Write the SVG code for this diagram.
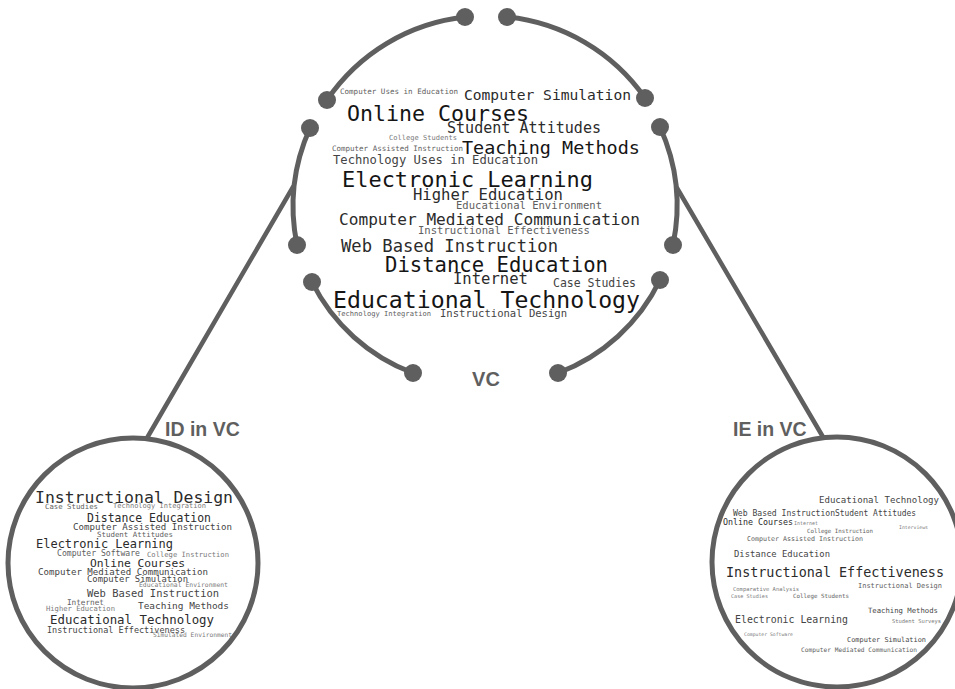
<svg xmlns="http://www.w3.org/2000/svg" width="955" height="689" viewBox="0 0 955 689">
<style>
.w{font-family:"DejaVu Sans Mono","Liberation Mono",monospace;}
.c1{fill:#151515}.c2{fill:#2b2b2b}.c3{fill:#444}.c4{fill:#5e5e5e}.c5{fill:#7a7a7a}
.arc{fill:none;stroke:#5f5f5f;stroke-width:5;stroke-linecap:round}
.ring{fill:#fff;stroke:#5f5f5f;stroke-width:5}
.con{stroke:#5f5f5f;stroke-width:4.5;stroke-linecap:round}
.dot{fill:#5f5f5f}
.lbl{font-family:"Liberation Sans",Arial,sans-serif;font-weight:bold;fill:#5f5f5f}
</style>
<rect width="955" height="689" fill="#fff"/>
<g id="connectors">
<line class="con" x1="293" y1="187" x2="147" y2="438"/>
<line class="con" x1="677" y1="188" x2="823" y2="437"/>
</g>
<g id="vc">
<path class="arc" d="M327,100 A192,192 0 0 1 465,17"/>
<path class="arc" d="M507,17 A192,192 0 0 1 645,98"/>
<path class="arc" d="M310,128 A192,192 0 0 0 297,245"/>
<path class="arc" d="M660,127 A192,192 0 0 1 673,245"/>
<path class="arc" d="M312,282 A186,186 0 0 0 413,373"/>
<path class="arc" d="M558,373 A186,186 0 0 0 660,280"/>
<circle class="dot" cx="465" cy="17" r="9"/>
<circle class="dot" cx="507" cy="17" r="9"/>
<circle class="dot" cx="327" cy="100" r="9"/>
<circle class="dot" cx="645" cy="98" r="9"/>
<circle class="dot" cx="310" cy="128" r="9"/>
<circle class="dot" cx="660" cy="127" r="9"/>
<circle class="dot" cx="297" cy="245" r="9"/>
<circle class="dot" cx="673" cy="245" r="9"/>
<circle class="dot" cx="312" cy="282" r="9"/>
<circle class="dot" cx="660" cy="280" r="9"/>
<circle class="dot" cx="413" cy="373" r="9"/>
<circle class="dot" cx="558" cy="373" r="9"/>
<g class="w" lengthAdjust="spacingAndGlyphs">
<text class="c4" x="340" y="94" font-size="7.5" textLength="118" lengthAdjust="spacingAndGlyphs">Computer Uses in Education</text>
<text class="c2" x="464" y="100" font-size="14.5" textLength="167" lengthAdjust="spacingAndGlyphs">Computer Simulation</text>
<text class="c1" x="347" y="121" font-size="21" textLength="182" lengthAdjust="spacingAndGlyphs">Online Courses</text>
<text class="c2" x="447" y="133" font-size="15" textLength="154" lengthAdjust="spacingAndGlyphs">Student Attitudes</text>
<text class="c5" x="389" y="140" font-size="7" textLength="68" lengthAdjust="spacingAndGlyphs">College Students</text>
<text class="c4" x="332" y="151" font-size="7.5" textLength="131" lengthAdjust="spacingAndGlyphs">Computer Assisted Instruction</text>
<text class="c1" x="462" y="154" font-size="18.5" textLength="178" lengthAdjust="spacingAndGlyphs">Teaching Methods</text>
<text class="c3" x="333" y="164" font-size="12" textLength="205" lengthAdjust="spacingAndGlyphs">Technology Uses in Education</text>
<text class="c1" x="342" y="187" font-size="22" textLength="251" lengthAdjust="spacingAndGlyphs">Electronic Learning</text>
<text class="c2" x="413" y="200" font-size="15" textLength="150" lengthAdjust="spacingAndGlyphs">Higher Education</text>
<text class="c4" x="456" y="209" font-size="10" textLength="146" lengthAdjust="spacingAndGlyphs">Educational Environment</text>
<text class="c2" x="339" y="225" font-size="16" textLength="301" lengthAdjust="spacingAndGlyphs">Computer Mediated Communication</text>
<text class="c4" x="418" y="234" font-size="10.5" textLength="172" lengthAdjust="spacingAndGlyphs">Instructional Effectiveness</text>
<text class="c2" x="341" y="252" font-size="17" textLength="217" lengthAdjust="spacingAndGlyphs">Web Based Instruction</text>
<text class="c1" x="385" y="272" font-size="20.5" textLength="223" lengthAdjust="spacingAndGlyphs">Distance Education</text>
<text class="c2" x="453" y="284" font-size="15.5" textLength="75" lengthAdjust="spacingAndGlyphs">Internet</text>
<text class="c3" x="553" y="287" font-size="11.5" textLength="83" lengthAdjust="spacingAndGlyphs">Case Studies</text>
<text class="c1" x="333" y="308" font-size="23" textLength="307" lengthAdjust="spacingAndGlyphs">Educational Technology</text>
<text class="c4" x="337" y="316" font-size="7" textLength="94" lengthAdjust="spacingAndGlyphs">Technology Integration</text>
<text class="c3" x="440" y="316.5" font-size="10.5" textLength="127" lengthAdjust="spacingAndGlyphs">Instructional Design</text>
</g>
<text class="lbl" x="486" y="386" font-size="20" text-anchor="middle">VC</text>
</g>
<g id="id-in-vc">
<circle class="ring" cx="133" cy="563" r="125"/>
<text class="lbl" x="165" y="436" font-size="19.5">ID in VC</text>
<g class="w">
<text class="c2" x="35" y="503" font-size="16" textLength="198" lengthAdjust="spacingAndGlyphs">Instructional Design</text>
<text class="c4" x="45" y="509" font-size="7.2" textLength="53" lengthAdjust="spacingAndGlyphs">Case Studies</text>
<text class="c5" x="113" y="508" font-size="7" textLength="93" lengthAdjust="spacingAndGlyphs">Technology Integration</text>
<text class="c2" x="87" y="522" font-size="11.4" textLength="124" lengthAdjust="spacingAndGlyphs">Distance Education</text>
<text class="c3" x="73" y="530" font-size="9" textLength="159" lengthAdjust="spacingAndGlyphs">Computer Assisted Instruction</text>
<text class="c4" x="97" y="537" font-size="7.3" textLength="76" lengthAdjust="spacingAndGlyphs">Student Attitudes</text>
<text class="c2" x="36" y="548" font-size="12" textLength="137" lengthAdjust="spacingAndGlyphs">Electronic Learning</text>
<text class="c4" x="57" y="556" font-size="8" textLength="83" lengthAdjust="spacingAndGlyphs">Computer Software</text>
<text class="c5" x="147" y="557" font-size="7.2" textLength="82" lengthAdjust="spacingAndGlyphs">College Instruction</text>
<text class="c2" x="90" y="567" font-size="11.3" textLength="95" lengthAdjust="spacingAndGlyphs">Online Courses</text>
<text class="c3" x="38" y="575" font-size="9" textLength="170" lengthAdjust="spacingAndGlyphs">Computer Mediated Communication</text>
<text class="c3" x="87" y="582" font-size="8.8" textLength="101" lengthAdjust="spacingAndGlyphs">Computer Simulation</text>
<text class="c5" x="139" y="587" font-size="6.4" textLength="89" lengthAdjust="spacingAndGlyphs">Educational Environment</text>
<text class="c3" x="87" y="597" font-size="10.5" textLength="132" lengthAdjust="spacingAndGlyphs">Web Based Instruction</text>
<text class="c4" x="67" y="605" font-size="7.8" textLength="37" lengthAdjust="spacingAndGlyphs">Internet</text>
<text class="c5" x="46" y="611" font-size="7.2" textLength="69" lengthAdjust="spacingAndGlyphs">Higher Education</text>
<text class="c3" x="138" y="609" font-size="9.5" textLength="91" lengthAdjust="spacingAndGlyphs">Teaching Methods</text>
<text class="c2" x="50" y="624" font-size="12.4" textLength="164" lengthAdjust="spacingAndGlyphs">Educational Technology</text>
<text class="c3" x="47" y="633" font-size="8.5" textLength="138" lengthAdjust="spacingAndGlyphs">Instructional Effectiveness</text>
<text class="c5" x="153" y="637" font-size="6.2" textLength="79" lengthAdjust="spacingAndGlyphs">Simulated Environment</text>
</g>
</g>
<g id="ie-in-vc">
<circle class="ring" cx="837" cy="562" r="125"/>
<text class="lbl" x="733" y="436" font-size="19.5">IE in VC</text>
<g class="w">
<text class="c3" x="819" y="503" font-size="9" textLength="120" lengthAdjust="spacingAndGlyphs">Educational Technology</text>
<text class="c3" x="733" y="516" font-size="8" textLength="102" lengthAdjust="spacingAndGlyphs">Web Based Instruction</text>
<text class="c3" x="835" y="516" font-size="8" textLength="81" lengthAdjust="spacingAndGlyphs">Student Attitudes</text>
<text class="c2" x="723" y="525" font-size="8.3" textLength="70" lengthAdjust="spacingAndGlyphs">Online Courses</text>
<text class="c5" x="794" y="525" font-size="5.2" textLength="24" lengthAdjust="spacingAndGlyphs">Internet</text>
<text class="c5" x="899" y="529" font-size="4.8" textLength="29" lengthAdjust="spacingAndGlyphs">Interviews</text>
<text class="c4" x="807" y="533" font-size="5.8" textLength="66" lengthAdjust="spacingAndGlyphs">College Instruction</text>
<text class="c4" x="747" y="541" font-size="6.6" textLength="116" lengthAdjust="spacingAndGlyphs">Computer Assisted Instruction</text>
<text class="c3" x="734" y="557" font-size="8.8" textLength="96" lengthAdjust="spacingAndGlyphs">Distance Education</text>
<text class="c2" x="726" y="577" font-size="13.4" textLength="218" lengthAdjust="spacingAndGlyphs">Instructional Effectiveness</text>
<text class="c4" x="858" y="588" font-size="7" textLength="84" lengthAdjust="spacingAndGlyphs">Instructional Design</text>
<text class="c5" x="733" y="591" font-size="5.5" textLength="66" lengthAdjust="spacingAndGlyphs">Comparative Analysis</text>
<text class="c5" x="731" y="598" font-size="5.2" textLength="37" lengthAdjust="spacingAndGlyphs">Case Studies</text>
<text class="c4" x="793" y="598" font-size="5.8" textLength="56" lengthAdjust="spacingAndGlyphs">College Students</text>
<text class="c3" x="868" y="613" font-size="7.3" textLength="70" lengthAdjust="spacingAndGlyphs">Teaching Methods</text>
<text class="c3" x="735" y="623" font-size="9.9" textLength="113" lengthAdjust="spacingAndGlyphs">Electronic Learning</text>
<text class="c5" x="892" y="623" font-size="5.4" textLength="49" lengthAdjust="spacingAndGlyphs">Student Surveys</text>
<text class="c5" x="744" y="636" font-size="4.8" textLength="49" lengthAdjust="spacingAndGlyphs">Computer Software</text>
<text class="c3" x="847" y="642" font-size="6.9" textLength="79" lengthAdjust="spacingAndGlyphs">Computer Simulation</text>
<text class="c4" x="801" y="652" font-size="6.2" textLength="116" lengthAdjust="spacingAndGlyphs">Computer Mediated Communication</text>
</g>
</g>
</svg>
